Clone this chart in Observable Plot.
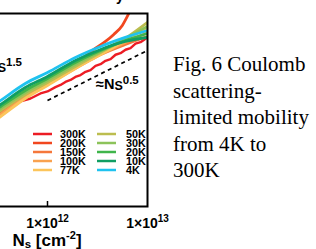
<!DOCTYPE html>
<html><head><meta charset="utf-8">
<script src="https://cdn.jsdelivr.net/npm/d3@7"></script>
<script src="https://cdn.jsdelivr.net/npm/@observablehq/plot@0.6"></script>
<style>
html,body{margin:0;padding:0;background:#fff;}
#wrap{position:relative;width:316px;height:249px;overflow:hidden;background:#fff;}
#chart{position:absolute;left:-100px;top:0;width:272px;height:249px;}
#cap{position:absolute;left:173px;top:51px;font-family:"Liberation Serif","Times New Roman",serif;font-size:21px;line-height:26.5px;color:#000;white-space:nowrap;}
</style></head><body>
<div id="wrap"><div id="chart"></div><div id="cap">Fig. 6 Coulomb<br>scattering-<br>limited mobility<br>from 4K to<br>300K</div></div>
<script>
// temperatures and colours
const temps  = ["300K","200K","150K","100K","77K","50K","30K","20K","10K","4K"];
const colors = ["#ec1c24","#f1471f","#f5773b","#f9a24f","#fcc55b","#bcbd4f","#8cc35a","#3fb54b","#109e63","#1fc2ef"];

// sheet density grid (cm^-2) and mobility values
const ns     = [2e11, 3.4e11, 6e11, 1e12, 1.9e12, 3.4e12, 6e12, 1e13];
const mu4K   = [794, 1148, 1698, 2188, 3090, 3981, 4898, 5754];
const mu10K  = [724, 1047, 1549, 1995, 2884, 3715, 4467, 4898];
const mu20K  = [692, 1000, 1445, 1905, 2754, 3631, 4571, 5370];
const mu30K  = [661, 955, 1380, 1820, 2630, 3548, 4786, 6310];
const mu50K  = [631, 912, 1318, 1738, 2512, 3467, 4786, 6918];
const mu77K  = [550, 794, 1202, 1622, 2399, 3311, 4571, 6166];
const mu100K = [575, 832, 1230, 1660, 2399, 3311, 4365, 5495];
const mu150K = [603, 871, 1259, 1660, 2455, 3311, 4169, 5012];
const ns200K = [2e11, 3.4e11, 6e11, 1e12, 1.9e12, 3.0e12, 3.8e12, 4.6e12, 5.6e12, 6.5e12];
const mu200K = [692, 1000, 1288, 1698, 2630, 3802, 4467, 5248, 6457, 8500];
const ns300K = [2e11,3.4e11,4.27e11,5.37e11,6.76e11,8.51e11,1e12,1.2e12,1.35e12,1.51e12,1.7e12,1.9e12,2.14e12,2.4e12,2.69e12,3.02e12,3.39e12,3.8e12,4.27e12,4.79e12,5.37e12,6.03e12,6.76e12,7.59e12,8.51e12,1e13];
const mu300K = [759,1047,1096,1122,1202,1349,1413,1560,1640,1760,1840,1975,2060,2220,2310,2550,2650,2860,2970,3290,3410,3690,3830,4240,4390,4898];

// slope-0.5 guide line
const nsGuide = [1e12, 1e13];
const muGuide = [1148, 3631];

// axis ticks
const xTicks = [1e12, 1e13];
const xTickLabels = ["1×10^12", "1×10^13"];

const smooth = [
  ["150K", ns, mu150K], ["100K", ns, mu100K], ["77K", ns, mu77K], ["50K", ns, mu50K],
  ["30K", ns, mu30K], ["20K", ns, mu20K], ["10K", ns, mu10K], ["4K", ns, mu4K]
];
const toRows = (T, xs, ys) => xs.map((x, i) => ({T, ns: x, mu: ys[i]}));
const rows300 = toRows("300K", ns300K, mu300K);
const rows200 = toRows("200K", ns200K, mu200K);
const rowsSmooth = smooth.flatMap(([T, xs, ys]) => toRows(T, xs, ys));
const guide = nsGuide.map((x, i) => ({ns: x, mu: muGuide[i]}));

const chart = Plot.plot({
  width: 272, height: 249,
  marginLeft: 47, marginRight: 25, marginTop: 13, marginBottom: 43,
  x: {type: "log", domain: [1e11, 1e13], axis: null},
  y: {type: "log", domain: [100, 8500], axis: null},
  color: {domain: temps, range: colors},
  style: {fontFamily: "'Liberation Sans', Arial, sans-serif", fontWeight: "bold", background: "transparent", maxWidth: "none", color: "#000"},
  marks: [
    Plot.line(guide, {x: "ns", y: "mu", stroke: "#000", strokeWidth: 1.7, strokeDasharray: "4,3.5", strokeLinecap: "butt"}),
    Plot.line(rows300, {x: "ns", y: "mu", stroke: "T", strokeWidth: 2.4, clip: true}),
    Plot.line(rows200, {x: "ns", y: "mu", stroke: "T", strokeWidth: 2.8, curve: "monotone-x", clip: true}),
    Plot.line(rowsSmooth, {x: "ns", y: "mu", z: "T", stroke: "T", strokeWidth: 2.8, curve: "monotone-x", clip: true}),
    Plot.frame({stroke: "#000", strokeWidth: 2}),
    Plot.axisX({ticks: [xTicks[0]], tickSize: -5, tickFormat: () => "", label: null, strokeWidth: 1.5}),
    Plot.axisX({ticks: xTicks, tickSize: 0, tickPadding: 12, fontSize: 14, tickFormat: (d) => xTickLabels[xTicks.indexOf(d)], label: null})
  ]
});
document.getElementById("chart").append(chart);

const svg = d3.select(chart);
// superscripts on tick labels
svg.selectAll('g[aria-label="x-axis tick label"]').attr("font-size", 14).attr("font-weight", "bold");
svg.selectAll('g[aria-label="x-axis tick label"] text').each(function() {
  const t = this.textContent;
  if (!t.includes("^")) return;
  const [b, e] = t.split("^");
  const s = d3.select(this);
  s.text(null);
  s.append("tspan").text(b);
  s.append("tspan").attr("font-size", 10).attr("dy", -6).text(e);
});

const bold = (sel) => sel.attr("font-family", "'Liberation Sans', Arial, sans-serif").attr("font-weight", "bold").attr("fill", "#000");

// axis title
const ax = bold(svg.append("text")).attr("x", 147).attr("y", 246).attr("text-anchor", "middle").attr("font-size", 17);
ax.append("tspan").text("N");
ax.append("tspan").attr("font-size", 11.5).attr("dy", 2).text("s");
ax.append("tspan").attr("dy", -2).text(" [cm");
ax.append("tspan").attr("font-size", 11).attr("dy", -7).text("-2");
ax.append("tspan").attr("dy", 7).text("]");

// slope annotations
function slopeLabel(x, y, anchor, exp) {
  const g = bold(svg.append("text")).attr("x", x).attr("y", y).attr("text-anchor", anchor).attr("font-size", 14.5);
  g.append("tspan").text("≈N");
  g.append("tspan").attr("font-size", 12.5).attr("dy", 1).text("S");
  g.append("tspan").attr("font-size", 11.5).attr("dy", -6).text(exp);
}
slopeLabel(122, 71, "end", "1.5");
slopeLabel(196, 89, "start", "0.5");

// title fragment at top
bold(svg.append("text")).attr("x", 220).attr("y", 1).attr("text-anchor", "middle").attr("font-size", 14).text("y");

// legend
const leg = svg.append("g");
temps.forEach((T, i) => {
  const col = Math.floor(i / 5), row = i % 5;
  const y = 134 + row * 9;
  const x0 = col === 0 ? 133 : 197;
  leg.append("line").attr("x1", x0).attr("x2", x0 + 19).attr("y1", y).attr("y2", y)
    .attr("stroke", colors[i]).attr("stroke-width", 2.5);
  bold(leg.append("text")).attr("x", col === 0 ? 160 : 226).attr("y", y).attr("dy", "0.36em")
    .attr("text-anchor", "start").attr("font-size", 10.8).text(T);
});
</script>
</body></html>
